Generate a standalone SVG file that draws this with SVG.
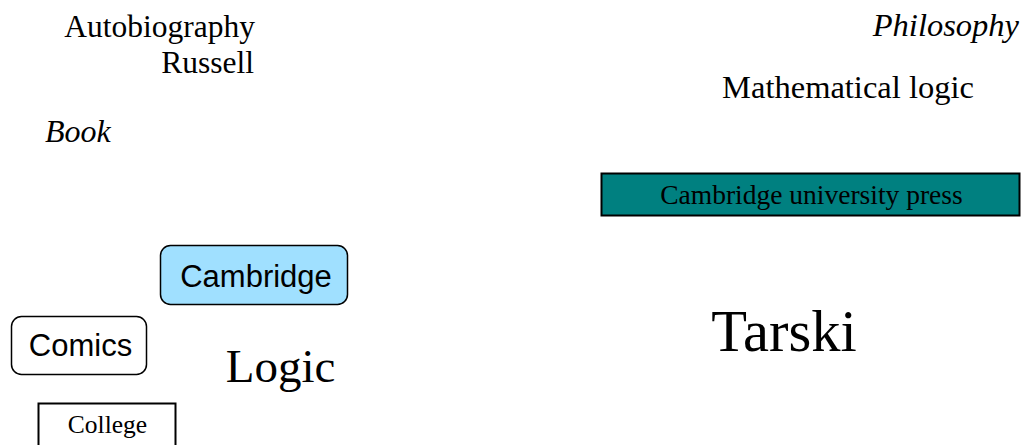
<svg xmlns="http://www.w3.org/2000/svg" width="1026" height="445" viewBox="0 0 1026 445">
  <style>
    .serif { font-family: "Liberation Serif", "Times New Roman", serif; fill: #000; }
    .sans { font-family: "Liberation Sans", Arial, sans-serif; fill: #000; }
    .it { font-style: italic; }
    .rbox { stroke: #000; stroke-width: 1.5; }
    .sbox { stroke: #000; stroke-width: 2; }
  </style>
  <rect width="1026" height="445" fill="#fff"/>

  <g id="autobiography">
    <text class="serif" x="255" y="37" font-size="31.5" text-anchor="end">Autobiography</text>
  </g>
  <g id="russell">
    <text class="serif" x="254" y="73" font-size="31.5" text-anchor="end">Russell</text>
  </g>
  <g id="book">
    <text class="serif it" x="45" y="142" font-size="32">Book</text>
  </g>
  <g id="philosophy">
    <text class="serif it" x="1019" y="36" font-size="32.5" text-anchor="end">Philosophy</text>
  </g>
  <g id="mathematical-logic">
    <text class="serif" x="848" y="98" font-size="32.5" text-anchor="middle">Mathematical logic</text>
  </g>
  <g id="cambridge-university-press">
    <rect class="sbox" x="601.5" y="173.5" width="418" height="42" fill="#008080"/>
    <text class="serif" x="811.5" y="204" font-size="27.5" text-anchor="middle">Cambridge university press</text>
  </g>
  <g id="cambridge">
    <rect class="rbox" x="160.5" y="245.5" width="187" height="59" rx="10" fill="#a0e0ff"/>
    <text class="sans" x="256" y="287" font-size="31" text-anchor="middle">Cambridge</text>
  </g>
  <g id="comics">
    <rect class="rbox" x="11.5" y="316.5" width="135" height="58" rx="10" fill="#fff"/>
    <text class="sans" x="80.5" y="356" font-size="31" text-anchor="middle">Comics</text>
  </g>
  <g id="logic">
    <text class="serif" x="280.5" y="382" font-size="47" text-anchor="middle">Logic</text>
  </g>
  <g id="tarski">
    <text class="serif" x="784" y="351" font-size="58.5" text-anchor="middle">Tarski</text>
  </g>
  <g id="college">
    <rect class="sbox" x="38.5" y="403.5" width="137" height="50" fill="#fff"/>
    <text class="serif" x="107.5" y="433" font-size="25.5" text-anchor="middle">College</text>
  </g>
  <g id="connectors"></g>
</svg>
